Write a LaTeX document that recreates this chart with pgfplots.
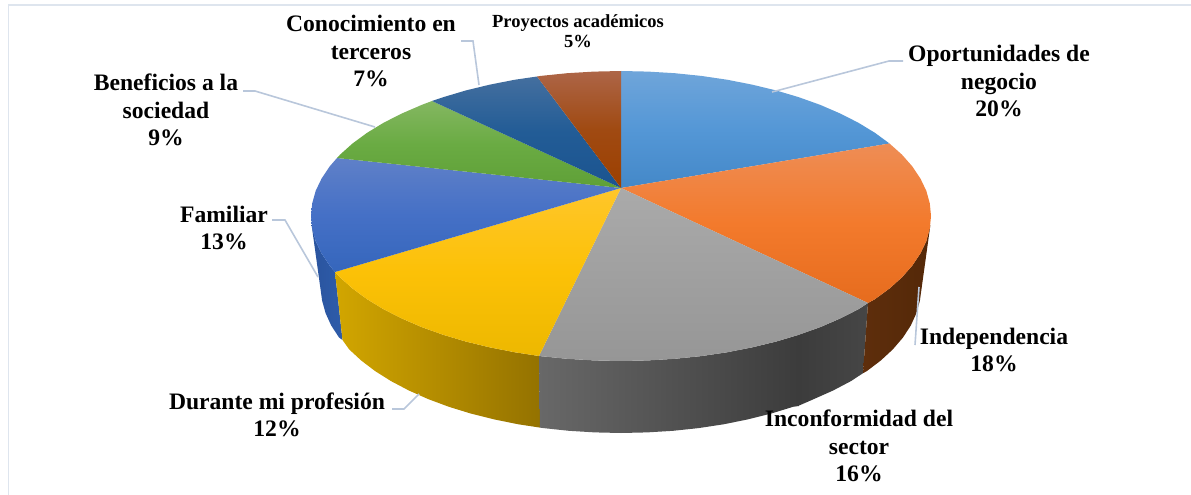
\documentclass[border=0pt]{standalone}
\usepackage{pgfplots}
\pgfplotsset{compat=1.18}
\usepackage{fontspec}
\setmainfont{Liberation Serif}
\definecolor{leader}{HTML}{B9C7DB}
\definecolor{frameln}{HTML}{DEE5EE}
\newcommand{\lbl}{\fontsize{23.6}{27.5}\selectfont\bfseries}
\begin{document}
\begin{tikzpicture}
\begin{axis}[
  scale only axis, width=1191pt, height=495pt,
  xmin=0, xmax=1191, ymin=0, ymax=495, y dir=reverse,
  hide axis, clip=false,
  every axis plot/.append style={no markers, forget plot, line width=0pt, draw=none},
]
% frame
\addplot[draw=frameln, line width=1.6pt] coordinates {(8.5,495) (8.5,5) (1191,5)};
% side walls
\addplot[shade, left color={rgb,255:red,42;green,84;blue,158}, right color={rgb,255:red,46;green,92;blue,170}] coordinates {(335,272) (329.7,265.6) (321.6,253.5) (315.7,241.2) (311.6,225) (321.7,297.6) (322.1,300.6) (325.6,313.2) (331.2,325.5) (339.1,337.6) (342.5,340)};
\addplot[shade, left color={rgb,255:red,210;green,166;blue,0}, right color={rgb,255:red,148;green,114;blue,0}] coordinates {(335,272) (340,277.3) (352.5,288.5) (367.1,299.2) (383.5,309.2) (401.8,318.5) (421.7,327.1) (443.2,334.8) (466,341.6) (490,347.4) (515,352.3) (539,356) (540,427.6) (518.4,424.3) (494.2,419.4) (471,413.6) (448.9,406.8) (428.2,399.1) (408.9,390.5) (391.2,381.2) (375.3,371.2) (361.2,360.5) (349.1,349.3) (342.5,340)};
\addplot[shade, left color={rgb,255:red,104;green,104;blue,104}, right color={rgb,255:red,60;green,60;blue,60}] coordinates {(539,356) (567.2,358.8) (594,360.4) (621,361) (648,360.4) (674.8,358.8) (701.2,356.1) (727,352.3) (752,347.4) (776,341.6) (798.8,334.8) (798.8,406) (793.1,406.8) (771,413.6) (747.8,419.4) (723.6,424.3) (698.6,428.1) (673.1,430.8) (647.1,432.4) (621,433) (594.9,432.4) (568.9,430.8) (543.4,428.1) (540,427.6)};
\addplot[shade, left color={rgb,255:red,60;green,60;blue,60}, right color={rgb,255:red,70;green,70;blue,70}] coordinates {(798,335) (820.3,327.1) (840.2,318.5) (858.5,309.2) (868,303) (863,373.2) (850.8,381.2) (833.1,390.5) (813.8,399.1) (798,406)};
\addplot[shade, left color={rgb,255:red,94;green,46;blue,12}, right color={rgb,255:red,84;green,40;blue,8}] coordinates {(868,303) (874.9,299.2) (889.5,288.5) (902,277.3) (912.3,265.6) (920.4,253.5) (926.3,241.2) (930.4,225) (920.3,297.6) (919.9,300.6) (916.4,313.2) (910.8,325.5) (902.9,337.6) (892.9,349.3) (880.8,360.5) (866.7,371.2) (863,373.2)};
% top faces
\addplot[shade, top color={rgb,255:red,111;green,165;blue,218}, bottom color={rgb,255:red,68;green,136;blue,200}, middle color={rgb,255:red,84;green,151;blue,214}] coordinates {(621,188) (621,71) (648,71.6) (674.8,73.2) (701.2,75.9) (727,79.7) (752,84.6) (776,90.4) (798.8,97.2) (820.3,104.9) (840.2,113.5) (858.5,122.8) (874.9,132.8) (889.5,143.5)};
\addplot[shade, top color={rgb,255:red,238;green,141;blue,85}, bottom color={rgb,255:red,230;green,108;blue,30}, middle color={rgb,255:red,243;green,122;blue,44}] coordinates {(621,188) (889.5,143.5) (902,154.7) (912.3,166.4) (920.4,178.5) (926.3,190.8) (929.8,203.4) (931,216) (929.8,228.6) (926.3,241.2) (920.4,253.5) (912.3,265.6) (902,277.3) (889.5,288.5) (874.9,299.2) (868,303)};
\addplot[shade, top color={rgb,255:red,170;green,170;blue,170}, bottom color={rgb,255:red,150;green,150;blue,150}] coordinates {(621,188) (868,303) (858.5,309.2) (840.2,318.5) (820.3,327.1) (798.8,334.8) (776,341.6) (752,347.4) (727,352.3) (701.2,356.1) (674.8,358.8) (648,360.4) (621,361) (594,360.4) (567.2,358.8) (539,356)};
\addplot[shade, top color={rgb,255:red,255;green,198;blue,42}, bottom color={rgb,255:red,237;green,184;blue,0}, middle color={rgb,255:red,252;green,193;blue,7}] coordinates {(621,188) (539,356) (515,352.3) (490,347.4) (466,341.6) (443.2,334.8) (421.7,327.1) (401.8,318.5) (383.5,309.2) (367.1,299.2) (352.5,288.5) (340,277.3) (335,272)};
\addplot[shade, top color={rgb,255:red,95;green,128;blue,200}, bottom color={rgb,255:red,53;green,102;blue,188}, middle color={rgb,255:red,69;green,112;blue,198}] coordinates {(621,188) (335,272) (329.7,265.6) (321.6,253.5) (315.7,241.2) (312.2,228.6) (311,216) (312.2,203.4) (315.7,190.8) (321.6,178.5) (329.7,166.4) (337,158)};
\addplot[shade, top color={rgb,255:red,132;green,183;blue,97}, bottom color={rgb,255:red,95;green,160;blue,55}, middle color={rgb,255:red,106;green,171;blue,67}] coordinates {(621,188) (337,158) (340,154.7) (352.5,143.5) (367.1,132.8) (383.5,122.8) (401.8,113.5) (421.7,104.9) (432,101)};
\addplot[shade, top color={rgb,255:red,68;green,111;blue,159}, bottom color={rgb,255:red,27;green,84;blue,144}, middle color={rgb,255:red,34;green,92;blue,150}] coordinates {(621,188) (432,101) (443.2,97.2) (466,90.4) (490,84.6) (515,79.7) (537,76.5)};
\addplot[shade, top color={rgb,255:red,173;green,101;blue,71}, bottom color={rgb,255:red,156;green,64;blue,0}, middle color={rgb,255:red,160;green,74;blue,18}] coordinates {(621,188) (537,76.5) (540.8,75.9) (567.2,73.2) (594,71.6) (621,71)};
% leader lines
\addplot[draw=leader, line width=1.6pt] coordinates {(772,92) (889,61) (903,61)};
\addplot[draw=leader, line width=1.6pt] coordinates {(479,85) (473,41) (461,41)};
\addplot[draw=leader, line width=1.6pt] coordinates {(243,91) (255,91) (375,127)};
\addplot[draw=leader, line width=1.6pt] coordinates {(272,220) (285,220) (318,277)};
\addplot[draw=leader, line width=1.6pt] coordinates {(392,409) (404,409) (419,394)};
\addplot[draw=leader, line width=1.6pt] coordinates {(919,287) (915,345)};
% labels
\node[align=center, font=\lbl, inner sep=0pt] at (axis cs:999,81) {Oportunidades de\\negocio\\20\%};
\node[align=center, font=\lbl, inner sep=0pt] at (axis cs:994,350) {Independencia\\18\%};
\node[align=center, font=\lbl, inner sep=0pt] at (axis cs:859,446) {Inconformidad del\\sector\\16\%};
\node[align=center, font=\lbl, inner sep=0pt] at (axis cs:277,415) {Durante mi profesión\\12\%};
\node[align=center, font=\lbl, inner sep=0pt] at (axis cs:224,228) {Familiar\\13\%};
\node[align=center, font=\lbl, inner sep=0pt] at (axis cs:166,110) {Beneficios a la\\sociedad\\9\%};
\node[align=center, font=\lbl, inner sep=0pt] at (axis cs:371,51) {Conocimiento en\\terceros\\7\%};
\node[align=center, font={\fontsize{18.5}{20}\selectfont\bfseries}, inner sep=0pt] at (axis cs:578,31) {Proyectos académicos\\5\%};
\end{axis}
\pgfresetboundingbox
\path[use as bounding box] (0,0) rectangle (1191pt,495pt);
\end{tikzpicture}
\end{document}
